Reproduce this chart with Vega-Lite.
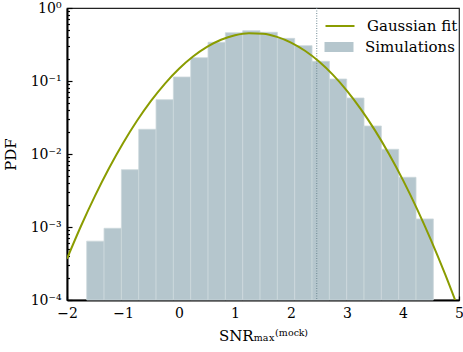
{
  "$schema": "https://vega.github.io/schema/vega-lite/v6.json",
  "width": 392,
  "height": 292,
  "autosize": {"type": "none"},
  "padding": {"left": 67, "top": 8, "right": 4, "bottom": 51},
  "background": "white",
  "config": {
    "font": "DejaVu Serif",
    "view": {"stroke": "#222222", "strokeWidth": 1.2},
    "axis": {
      "domainColor": "black", "domainWidth": 2, "tickColor": "black", "tickWidth": 1.2,
      "labelColor": "black", "titleColor": "black", "labelFont": "DejaVu Serif", "titleFont": "DejaVu Serif",
      "labelFontSize": 14, "titleFontSize": 15, "titleFontWeight": "normal", "grid": false
    },
    "legend": {
      "labelFont": "DejaVu Serif", "labelFontSize": 15, "labelColor": "black",
      "padding": 0, "symbolSize": 400, "labelOffset": 16, "orient": "none"
    }
  },
  "datasets": {
    "hist": [
      {"x1": -1.648, "x2": -1.3385, "pdf": 0.00064, "series": "Simulations"},
      {"x1": -1.3385, "x2": -1.029, "pdf": 0.00096, "series": "Simulations"},
      {"x1": -1.029, "x2": -0.7195, "pdf": 0.0061, "series": "Simulations"},
      {"x1": -0.7195, "x2": -0.41, "pdf": 0.0218, "series": "Simulations"},
      {"x1": -0.41, "x2": -0.1005, "pdf": 0.0555, "series": "Simulations"},
      {"x1": -0.1005, "x2": 0.209, "pdf": 0.1135, "series": "Simulations"},
      {"x1": 0.209, "x2": 0.5185, "pdf": 0.2085, "series": "Simulations"},
      {"x1": 0.5185, "x2": 0.828, "pdf": 0.339, "series": "Simulations"},
      {"x1": 0.828, "x2": 1.1375, "pdf": 0.459, "series": "Simulations"},
      {"x1": 1.1375, "x2": 1.447, "pdf": 0.489, "series": "Simulations"},
      {"x1": 1.447, "x2": 1.7565, "pdf": 0.465, "series": "Simulations"},
      {"x1": 1.7565, "x2": 2.066, "pdf": 0.384, "series": "Simulations"},
      {"x1": 2.066, "x2": 2.3755, "pdf": 0.305, "series": "Simulations"},
      {"x1": 2.3755, "x2": 2.685, "pdf": 0.186, "series": "Simulations"},
      {"x1": 2.685, "x2": 2.9945, "pdf": 0.1065, "series": "Simulations"},
      {"x1": 2.9945, "x2": 3.304, "pdf": 0.0585, "series": "Simulations"},
      {"x1": 3.304, "x2": 3.6135, "pdf": 0.0242, "series": "Simulations"},
      {"x1": 3.6135, "x2": 3.923, "pdf": 0.0116, "series": "Simulations"},
      {"x1": 3.923, "x2": 4.2325, "pdf": 0.0048, "series": "Simulations"},
      {"x1": 4.2325, "x2": 4.542, "pdf": 0.00129, "series": "Simulations"}
    ],
    "fit": [
      {"x": -2.0, "pdf": 0.000368, "series": "Gaussian fit"},
      {"x": -1.75, "pdf": 0.001032, "series": "Gaussian fit"},
      {"x": -1.5, "pdf": 0.00267, "series": "Gaussian fit"},
      {"x": -1.25, "pdf": 0.00637, "series": "Gaussian fit"},
      {"x": -1.0, "pdf": 0.01403, "series": "Gaussian fit"},
      {"x": -0.75, "pdf": 0.02851, "series": "Gaussian fit"},
      {"x": -0.5, "pdf": 0.0534, "series": "Gaussian fit"},
      {"x": -0.25, "pdf": 0.09231, "series": "Gaussian fit"},
      {"x": 0.0, "pdf": 0.1472, "series": "Gaussian fit"},
      {"x": 0.25, "pdf": 0.2165, "series": "Gaussian fit"},
      {"x": 0.5, "pdf": 0.2937, "series": "Gaussian fit"},
      {"x": 0.75, "pdf": 0.3675, "series": "Gaussian fit"},
      {"x": 1.0, "pdf": 0.4243, "series": "Gaussian fit"},
      {"x": 1.25, "pdf": 0.4519, "series": "Gaussian fit"},
      {"x": 1.5, "pdf": 0.4438, "series": "Gaussian fit"},
      {"x": 1.75, "pdf": 0.4023, "series": "Gaussian fit"},
      {"x": 2.0, "pdf": 0.3363, "series": "Gaussian fit"},
      {"x": 2.25, "pdf": 0.2594, "series": "Gaussian fit"},
      {"x": 2.5, "pdf": 0.1845, "series": "Gaussian fit"},
      {"x": 2.75, "pdf": 0.1211, "series": "Gaussian fit"},
      {"x": 3.0, "pdf": 0.07328, "series": "Gaussian fit"},
      {"x": 3.25, "pdf": 0.0409, "series": "Gaussian fit"},
      {"x": 3.5, "pdf": 0.02108, "series": "Gaussian fit"},
      {"x": 3.75, "pdf": 0.01002, "series": "Gaussian fit"},
      {"x": 4.0, "pdf": 0.00439, "series": "Gaussian fit"},
      {"x": 4.25, "pdf": 0.001775, "series": "Gaussian fit"},
      {"x": 4.5, "pdf": 0.000662, "series": "Gaussian fit"},
      {"x": 4.75, "pdf": 0.0002278, "series": "Gaussian fit"},
      {"x": 5.0, "pdf": 0.0000723, "series": "Gaussian fit"}
    ],
    "threshold": [{"snr": 2.46}]
  },
  "resolve": {"scale": {"color": "independent"}, "legend": {"color": "independent"}},
  "layer": [
    {
      "data": {"name": "hist"},
      "mark": {"type": "bar", "stroke": "#cdd8dc", "strokeWidth": 0.8},
      "encoding": {
        "x": {
          "field": "x1", "type": "quantitative",
          "scale": {"domain": [-2, 5], "nice": false, "zero": false},
          "axis": {
            "values": [-2, -1, 0, 1, 2, 3, 4, 5], "title": "SNRₘₐₓ⁽ᵐᵒᶜᵏ⁾", "format": "d",
            "tickSize": -4, "labelPadding": 10, "labelFlush": false, "titlePadding": 8
          }
        },
        "x2": {"field": "x2"},
        "y": {
          "field": "pdf", "type": "quantitative",
          "scale": {"type": "log", "domain": [0.0001, 1], "nice": false},
          "axis": {
            "title": "PDF",
            "values": [0.0001, 0.0002, 0.0003, 0.0004, 0.0005, 0.0006, 0.0007, 0.0008, 0.0009,
                       0.001, 0.002, 0.003, 0.004, 0.005, 0.006, 0.007, 0.008, 0.009,
                       0.01, 0.02, 0.03, 0.04, 0.05, 0.06, 0.07, 0.08, 0.09,
                       0.1, 0.2, 0.3, 0.4, 0.5, 0.6, 0.7, 0.8, 0.9, 1],
            "tickSize": {"condition": {"test": "abs(log(datum.value)/LN10 - round(log(datum.value)/LN10)) < 0.000001", "value": -5}, "value": -2.5},
            "labelExpr": "abs(log(datum.value)/LN10 - round(log(datum.value)/LN10)) < 0.000001 ? '10' + (round(log(datum.value)/LN10) == 0 ? '⁰' : round(log(datum.value)/LN10) == -1 ? '⁻¹' : round(log(datum.value)/LN10) == -2 ? '⁻²' : round(log(datum.value)/LN10) == -3 ? '⁻³' : '⁻⁴') : ''",
            "labelOverlap": false, "labelPadding": 11, "titlePadding": 12
          }
        },
        "y2": {"datum": 0.0001},
        "color": {
          "field": "series", "type": "nominal",
          "scale": {"domain": ["Simulations"], "range": ["#b5c6cd"]},
          "legend": {
            "title": null, "legendX": 262, "legendY": 29,
            "symbolType": "M-1.45,-0.5H1.45V0.5H-1.45Z", "symbolStrokeWidth": 0
          }
        }
      }
    },
    {
      "data": {"name": "threshold"},
      "mark": {"type": "rule", "strokeDash": [1, 1.5], "color": "#6d8792", "strokeWidth": 1},
      "encoding": {"x": {"field": "snr", "type": "quantitative"}}
    },
    {
      "data": {"name": "fit"},
      "mark": {"type": "line", "strokeWidth": 2, "clip": true, "interpolate": "monotone"},
      "encoding": {
        "x": {"field": "x", "type": "quantitative"},
        "y": {"field": "pdf", "type": "quantitative"},
        "color": {
          "field": "series", "type": "nominal",
          "scale": {"domain": ["Gaussian fit"], "range": ["#8a9c00"]},
          "legend": {
            "title": null, "legendX": 262, "legendY": 7,
            "symbolType": "M-1.45,0H1.45", "symbolStrokeWidth": 2
          }
        }
      }
    }
  ]
}
